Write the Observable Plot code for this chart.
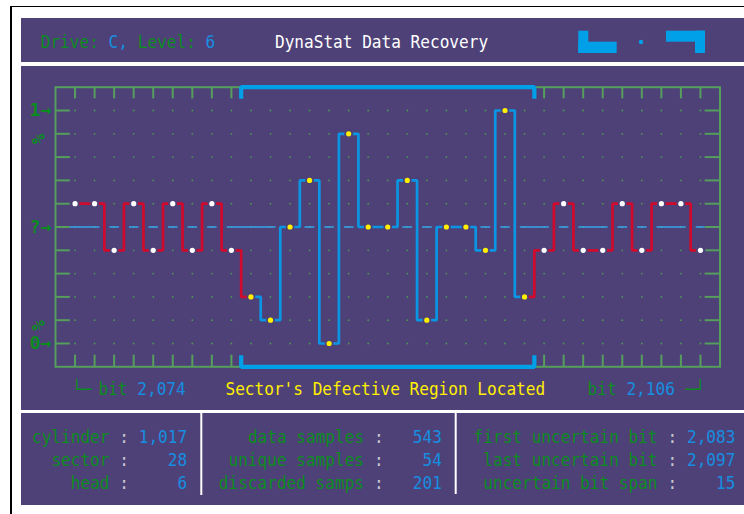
<!DOCTYPE html>
<html><head><meta charset="utf-8">
<script src="https://cdn.jsdelivr.net/npm/d3@7"></script>
<script src="https://cdn.jsdelivr.net/npm/@observablehq/plot@0.6"></script>
<style>
html,body{margin:0;padding:0;background:#fff;}
#page{position:relative;width:744px;height:514px;overflow:hidden;background:#fff;font-family:"DejaVu Sans Mono",monospace;}
.panel{position:absolute;left:21px;width:723px;background:#4e4178;}
#border{position:absolute;left:10px;top:6px;width:800px;height:600px;border-left:2px solid #000;border-top:1.5px solid #000;}
#chart{position:absolute;left:0;top:66px;width:744px;height:344px;}
#overlay{position:absolute;left:0;top:0;pointer-events:none;}
</style></head><body>
<div id="page">
  <div id="border"></div>
  <div class="panel" style="top:18px;height:44px"></div>
  <div class="panel" style="top:66px;height:344px"></div>
  <div class="panel" style="top:413px;height:92px"></div>
  <div id="chart"></div>
</div>
<script>
// ---------- data ----------
const bits = [2074, 2075, 2076, 2077, 2078, 2079, 2080, 2081, 2082,
              2083, 2084, 2085, 2086, 2087, 2088, 2089, 2090, 2091, 2092, 2093, 2094, 2095, 2096, 2097,
              2098, 2099, 2100, 2101, 2102, 2103, 2104, 2105, 2106];
const levels = [0.6, 0.6, 0.4, 0.6, 0.4, 0.6, 0.4, 0.6, 0.4,
                0.2, 0.1, 0.5, 0.7, 0.0, 0.9, 0.5, 0.5, 0.7, 0.1, 0.5, 0.5, 0.4, 1.0, 0.2,
                0.4, 0.6, 0.4, 0.4, 0.6, 0.4, 0.6, 0.6, 0.4];
const firstUncertainBit = 2083;
const lastUncertainBit = 2097;
const gridLevels = [0, 0.1, 0.2, 0.3, 0.4, 0.5, 0.6, 0.7, 0.8, 0.9, 1.0];
const yArrowLevels = [1, 0.5, 0];
const yArrowLabels = ["1→", "?→", "0→"];
const yPctLevels = [0.9, 0.1];
const headerDrive = "C";
const headerLevel = "6";
const headerTitle = "DynaStat Data Recovery";
const regionCaption = "Sector's Defective Region Located";
const startBitLabel = "2,074";
const endBitLabel = "2,106";
const col1Labels = ["cylinder", "sector", "head"];
const col1Values = ["1,017", "28", "6"];
const col2Labels = ["data samples", "unique samples", "discarded samps"];
const col2Values = ["543", "54", "201"];
const col3Labels = ["first uncertain bit", "last uncertain bit", "uncertain bit span"];
const col3Values = ["2,083", "2,097", "15"];

// ---------- colours ----------
const purple = "#4e4178";
const frameGreen = "#559e5c";
const gridGreen = "#4a9a52";
const textGreen = "#0a8c1e";
const valueBlue = "#168ee0";
const stepBlue = "#0a96e4";
const bracketBlue = "#00a0e8";
const midBlue = "#35a6e8";
const red = "#cf0a2c";
const yellow = "#ffef00";
const colonGrey = "#c8c8d2";

// ---------- chart ----------
const data = bits.map((b, i) => ({bit: b, v: levels[i]}));
const isUncertain = d => d.bit >= firstUncertainBit && d.bit <= lastUncertainBit;
const redA = data.filter(d => d.bit <= firstUncertainBit);
const blueSeg = data.filter(isUncertain);
const redB = data.filter(d => d.bit >= lastUncertainBit);
const xMin = bits[0] - 1, xMax = bits[bits.length - 1] + 1;
const tickLen = 0.76;
const grid = d3.cross(bits, gridLevels, (b, l) => ({bit: b, v: l}));
const tickBits = bits.filter(b => b < firstUncertainBit || b > lastUncertainBit);
const bL = firstUncertainBit - 0.5, bR = lastUncertainBit + 0.5;
const bracketTop = [{bit: bL, v: 1.05}, {bit: bL, v: 1.1}, {bit: bR, v: 1.1}, {bit: bR, v: 1.05}];
const bracketBot = [{bit: bL, v: -0.05}, {bit: bL, v: -0.1}, {bit: bR, v: -0.1}, {bit: bR, v: -0.05}];
const arrows = yArrowLevels.map((v, i) => ({v, label: yArrowLabels[i]}));

const halo = seg => Plot.line(seg, {x: "bit", y: "v", curve: "step", stroke: purple, strokeWidth: 10, strokeLinejoin: "miter"});
const stepLine = (seg, c) => Plot.line(seg, {x: "bit", y: "v", curve: "step", stroke: c, strokeWidth: 2.7, strokeLinejoin: "miter"});

const chart = Plot.plot({
  width: 744, height: 344,
  marginLeft: 55, marginRight: 24.5, marginTop: 20.7, marginBottom: 43.7,
  x: {domain: [xMin, xMax], axis: null},
  y: {domain: [-0.1, 1.1], axis: null},
  style: {background: "transparent", overflow: "visible", fontFamily: "DejaVu Sans Mono"},
  marks: [
    Plot.dot(grid, {x: "bit", y: "v", r: 0.9, fill: gridGreen}),
    Plot.ruleY(gridLevels, {x1: xMin, x2: xMin + tickLen, stroke: frameGreen, strokeWidth: 2}),
    Plot.ruleY(gridLevels, {x1: xMax - tickLen, x2: xMax, stroke: frameGreen, strokeWidth: 2}),
    Plot.ruleX(tickBits, {y1: 1.05, y2: 1.1, stroke: frameGreen, strokeWidth: 2}),
    Plot.ruleX(tickBits, {y1: -0.1, y2: -0.05, stroke: frameGreen, strokeWidth: 2}),
    Plot.frame({stroke: frameGreen, strokeWidth: 2}),
    Plot.ruleY([0.5], {x1: xMin + tickLen, x2: xMax - tickLen, stroke: midBlue, strokeWidth: 1.5}),
    halo(redA), halo(blueSeg), halo(redB),
    stepLine(redA, red), stepLine(blueSeg, stepBlue), stepLine(redB, red),
    Plot.dot(data.filter(d => !isUncertain(d)), {x: "bit", y: "v", r: 2.6, fill: "white", stroke: purple, strokeWidth: 3.6, paintOrder: "stroke"}),
    Plot.dot(data.filter(isUncertain), {x: "bit", y: "v", r: 2.6, fill: yellow, stroke: purple, strokeWidth: 3.6, paintOrder: "stroke"}),
    Plot.line(bracketTop, {x: "bit", y: "v", stroke: bracketBlue, strokeWidth: 4.2, strokeLinejoin: "miter", strokeLinecap: "butt"}),
    Plot.line(bracketBot, {x: "bit", y: "v", stroke: bracketBlue, strokeWidth: 4.2, strokeLinejoin: "miter", strokeLinecap: "butt"}),
    Plot.text(arrows, {y: "v", text: "label", frameAnchor: "left", textAnchor: "end", dx: -4, fill: textGreen, fontSize: 18, fontWeight: "bold"}),
    Plot.text(yPctLevels, {y: d => d, text: () => "%", frameAnchor: "left", dx: -18, rotate: 90, fill: textGreen, fontSize: 17, fontWeight: "bold"})
  ]
});
document.getElementById("chart").appendChild(chart);

// ---------- overlay: header, captions, info panel ----------
const page = d3.select("#page");
const ov = page.append("svg").attr("id", "overlay").attr("width", 744).attr("height", 514)
  .style("font-family", "'DejaVu Sans Mono', monospace");

// monospace cell width 9.7px (font-size 16.1); glyphs stretched vertically by sy
const CW = 9.7, FS = 16.1;
function addRun(x, y, parts, {sy = 1.06, anchor = "start"} = {}) {
  const n = parts.reduce((s, p) => s + p[0].length, 0);
  let cx = anchor === "end" ? x - n * CW : x;
  parts.forEach(([s, c]) => {
    const lead = s.length - s.trimStart().length;
    const core = s.trim();
    if (core.length) {
      ov.append("text")
        .attr("transform", `translate(${cx + lead * CW},${y}) scale(1,${sy})`)
        .attr("font-size", FS)
        .attr("fill", c).text(core);
    }
    cx += s.length * CW;
  });
}

// header
addRun(40.7, 48.3, [["Drive: ", textGreen], [headerDrive + ",", valueBlue], [" Level: ", textGreen], [headerLevel, valueBlue]]);
addRun(275, 48.3, [[headerTitle, "#ffffff"]], {sy: 1.09});
// header icons
const icon = ov.append("g").attr("fill", bracketBlue);
icon.append("rect").attr("x", 578.3).attr("y", 30.7).attr("width", 10).attr("height", 22.3);
icon.append("rect").attr("x", 578.3).attr("y", 41.7).attr("width", 38.4).attr("height", 11.3);
icon.append("circle").attr("cx", 641).attr("cy", 42).attr("r", 2.2);
icon.append("rect").attr("x", 666).attr("y", 30.7).attr("width", 39).attr("height", 11);
icon.append("rect").attr("x", 695).attr("y", 30.7).attr("width", 10).attr("height", 22.3);

// captions under chart
addRun(72, 395, [["└─", textGreen]]);
addRun(98.5, 395, [["bit ", textGreen], [startBitLabel, valueBlue]]);
addRun(225.5, 395, [[regionCaption, yellow]]);
addRun(587.6, 395, [["bit ", textGreen], [endBitLabel, valueBlue]]);
addRun(685.6, 395, [["─┘", textGreen]]);

// info panel: label, colon, right-aligned value (6 cells after the colon)
const rowsY = [442.7, 466, 488.5];
function column(labels, values, rightX) {
  labels.forEach((lab, i) => {
    addRun(rightX, rowsY[i], [[lab + " ", textGreen], [":", colonGrey], [values[i].padStart(6, " "), valueBlue]], {sy: 1.13, anchor: "end"});
  });
}
column(col1Labels, col1Values, 187.2);
column(col2Labels, col2Values, 441.9);
column(col3Labels, col3Values, 735.5);
// dividers
ov.append("line").attr("x1", 201.3).attr("x2", 201.3).attr("y1", 413).attr("y2", 495).attr("stroke", "#ffffff").attr("stroke-width", 2);
ov.append("line").attr("x1", 455.7).attr("x2", 455.7).attr("y1", 413).attr("y2", 494).attr("stroke", "#ffffff").attr("stroke-width", 2);
</script>
</body></html>
